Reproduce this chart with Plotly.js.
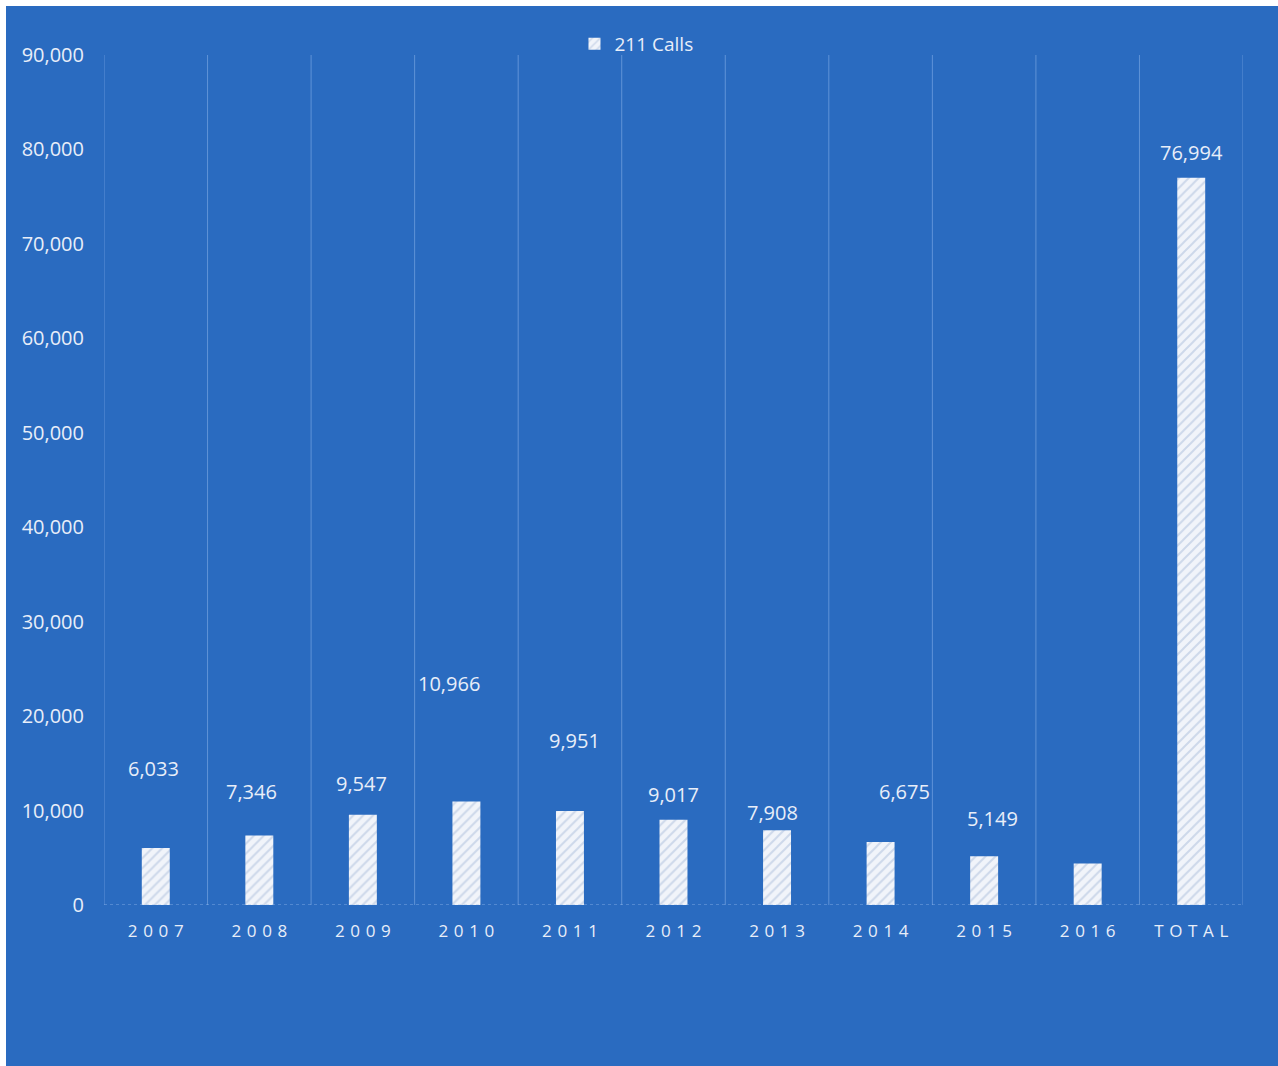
<!DOCTYPE html>
<html>
<head>
<meta charset="utf-8">
<script src="https://cdn.plot.ly/plotly-3.0.1.min.js"></script>
<style>
  html, body { margin: 0; padding: 0; background: #ffffff; }
  #chart { position: absolute; left: 6px; top: 6px; width: 1272px; height: 1060px; }
</style>
</head>
<body>
<div id="chart"></div>
<script>
// Data
const categories = ["2007", "2008", "2009", "2010", "2011", "2012", "2013", "2014", "2015", "2016", "TOTAL"];
const calls = [6033, 7346, 9547, 10966, 9951, 9017, 7908, 6675, 5149, 4402, 76994];
const showLabel = [true, true, true, true, true, true, true, true, true, false, true];
const seriesName = "211 Calls";

// Label placement offsets (pixels) as drawn in the original
const labelDy = [80, 44, 31, 118, 71, 25, 18, 50, 38, 0, 25];
const labelDx = [-2, -8, -1, -17, 5, 0, -5, 24, 8, 0, 0];

const txtColor = "#e8eef9";
const fontFam = "Open Sans, Lato, sans-serif";

const spaced = categories.map(c => c.split("").join("\u2009\u2009"));

const trace = {
  type: "bar",
  x: categories.map((c, i) => i),
  y: calls,
  name: seriesName,
  width: 0.27,
  marker: {
    color: "#f1f4fa",
    line: { width: 0 },
    pattern: { shape: "/", fgcolor: "#a9bbda", size: 7, solidity: 0.28, fillmode: "overlay" }
  },
  hoverinfo: "y",
  showlegend: true
};

const annotations = [];
categories.forEach((c, i) => {
  if (!showLabel[i]) return;
  annotations.push({
    x: i, y: calls[i], xref: "x", yref: "y",
    text: calls[i].toLocaleString("en-US"),
    showarrow: false,
    yanchor: "middle",
    xanchor: "center",
    yshift: labelDy[i],
    xshift: labelDx[i],
    font: { family: fontFam, size: 20, color: txtColor }
  });
});

const layout = {
  width: 1272,
  height: 1060,
  paper_bgcolor: "#2a6bc0",
  plot_bgcolor: "#2a6bc0",
  margin: { l: 98, r: 35, t: 49, b: 161 },
  font: { family: fontFam, color: txtColor },
  showlegend: true,
  legend: {
    orientation: "h",
    x: 0.4675, xanchor: "center",
    y: 1.013, yanchor: "middle",
    bgcolor: "rgba(0,0,0,0)",
    font: { family: fontFam, size: 19, color: txtColor },
    itemwidth: 30
  },
  xaxis: {
    type: "linear",
    tickmode: "array",
    tickvals: categories.map((c, i) => i),
    ticktext: spaced,
    showgrid: false,
    ticks: "",
    ticklabelstandoff: 14,
    tickfont: { family: fontFam, size: 17, color: txtColor },
    showline: false,
    zeroline: false,
    range: [-0.5, categories.length - 0.5]
  },
  yaxis: {
    range: [0, 90000],
    dtick: 10000,
    tickformat: ",",
    showgrid: false,
    zeroline: false,
    showline: false,
    ticks: "",
    ticklabelstandoff: 19,
    tickfont: { family: fontFam, size: 20, color: txtColor }
  },
  shapes: [],
  annotations: annotations,
  bargap: 0.7
};

// vertical category boundary gridlines
for (let k = 0; k <= categories.length; k++) {
  layout.shapes.push({
    type: "line", xref: "x", yref: "paper",
    x0: k - 0.5, x1: k - 0.5, y0: 0, y1: 1,
    layer: "below",
    line: { color: "rgba(140,180,235,0.55)", width: 1 }
  });
}
layout.shapes.push({
  type: "line", xref: "paper", yref: "y",
  x0: 0, x1: 1, y0: 0, y1: 0,
  line: { color: "rgba(160,195,240,0.7)", width: 1, dash: "dot" }
});

Plotly.newPlot("chart", [trace], layout, { displayModeBar: false, staticPlot: true });
</script>
</body>
</html>
